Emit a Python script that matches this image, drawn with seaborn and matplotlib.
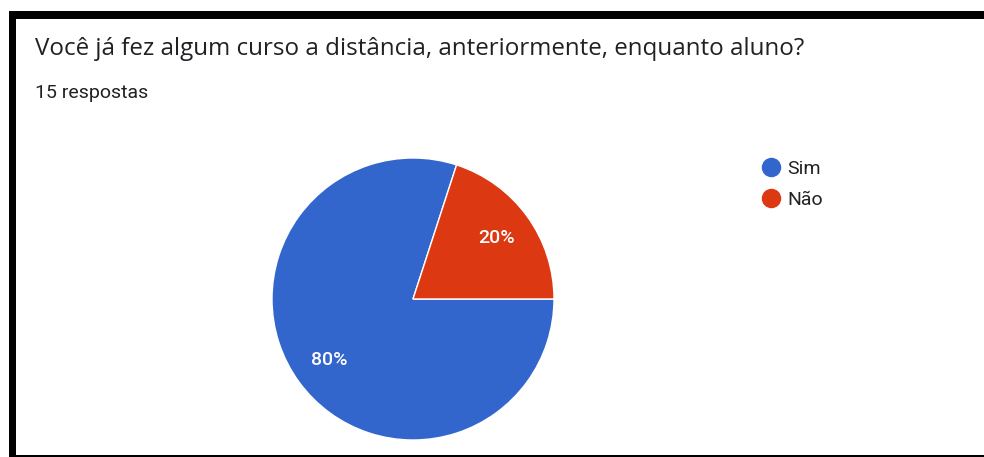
import matplotlib
matplotlib.use("Agg")
import matplotlib.pyplot as plt
from matplotlib.lines import Line2D
from matplotlib.patches import Rectangle
import seaborn as sns

# Survey answers
categories = ["Sim", "Não"]
counts = [12, 3]
colors = ["#3366CC", "#DC3912"]
title = "Você já fez algum curso a distância, anteriormente, enquanto aluno?"
subtitle = "15 respostas"

sns.set_theme(style="white")
plt.rcParams["font.family"] = ["Roboto", "DejaVu Sans"]

W, H = 984, 457
fig = plt.figure(figsize=(W / 100, H / 100), dpi=100)
fig.patch.set_facecolor("white")


def fx(px):
    return px / W


def fy(py):
    return 1 - py / H


# Black frame: top, left and bottom bands
fig.add_artist(Rectangle((fx(9), fy(19)), fx(W - 9), 8 / H, transform=fig.transFigure,
                         facecolor="black", edgecolor="none"))
fig.add_artist(Rectangle((fx(9), 0), 7 / W, fy(11), transform=fig.transFigure,
                         facecolor="black", edgecolor="none"))
fig.add_artist(Rectangle((fx(9), 0), fx(W - 9), 2 / H, transform=fig.transFigure,
                         facecolor="black", edgecolor="none"))

fig.text(fx(35), fy(49), title, fontsize=17.4, color="#202124", va="center", ha="left",
         family=["Open Sans", "DejaVu Sans"])
fig.text(fx(35), fy(93), subtitle, fontsize=14, color="#202124", va="center", ha="left")

# Pie
cx, cy, r = 413, 299, 141
ax = fig.add_axes([fx(cx - r), fy(cy + r), 2 * r / W, 2 * r / H])
wedges, texts, autotexts = ax.pie(
    counts, colors=colors, startangle=72, counterclock=True,
    autopct=lambda p: f"{p:.0f}%", pctdistance=0.73, radius=1,
    wedgeprops=dict(edgecolor="white", linewidth=1.0),
    textprops=dict(color="white", fontsize=14, fontweight="medium"),
)
ax.set_xlim(-1, 1)
ax.set_ylim(-1, 1)
ax.set_aspect("equal")
ax.axis("off")

handles = [Line2D([], [], marker="o", linestyle="none", markersize=13,
                  markerfacecolor=c, markeredgecolor=c) for c in colors]
fig.legend(handles, categories, loc="upper left", bbox_to_anchor=(fx(759), fy(160)),
           frameon=False, fontsize=14, handletextpad=0.25, labelspacing=0.68,
           borderpad=0, borderaxespad=0, handlelength=1.2, labelcolor="#222222")

fig.savefig("out.png", dpi=100, facecolor="white")
